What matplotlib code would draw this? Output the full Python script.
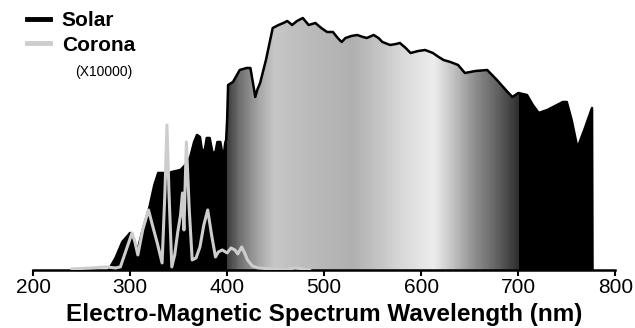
import matplotlib
matplotlib.use("Agg")
import matplotlib.pyplot as plt
import numpy as np
from matplotlib.colors import LinearSegmentedColormap
from matplotlib.lines import Line2D
from matplotlib.patches import Polygon

plt.rcParams['font.family'] = ['Liberation Sans', 'DejaVu Sans']

# solar spectrum (relative units)
solar_nm = [278, 285, 292, 300, 307, 313, 320, 325, 329, 334, 338, 343, 352, 357, 362,
            366, 369, 372, 374, 377, 379, 382, 385, 388, 390, 393, 395, 397, 398, 399,
            400, 400.5, 401, 406, 413, 420, 424, 427, 429, 431, 434, 440, 447, 453, 458,
            462, 467, 472, 478, 484, 491, 497, 503, 509, 514, 518, 522, 528, 534, 540,
            544, 551, 556, 560, 568, 574, 578, 584, 589, 597, 604, 612, 618, 623, 630,
            638, 645, 656, 668, 678, 689, 694, 700, 709, 715, 721, 730, 740, 746, 750,
            755, 761, 768, 776, 776.5]
solar_val = [0, 12, 28, 37, 17, 40, 63, 85, 97, 97, 96, 98, 100, 105, 113,
             128, 135, 133, 120, 120, 132, 132, 117, 118, 128, 128, 117, 118, 127, 130,
             150, 167, 185, 188, 200, 202, 202, 185, 173, 180, 187, 210, 242, 245, 247,
             249, 245, 249, 252, 245, 247, 242, 238, 238, 232, 228, 232, 234, 235, 233,
             232, 235, 232, 228, 225, 226, 227, 222, 217, 219, 220, 217, 213, 210, 208,
             205, 197, 199, 200, 190, 178, 173, 177, 175, 165, 157, 160, 165, 168, 168,
             150, 122, 140, 162, 0]

# corona spectrum (x10000)
corona_nm = [240, 260, 275, 285, 290, 296, 302, 305, 308, 313, 319, 323, 328, 333, 336,
             338, 340, 343, 346, 349, 352, 354, 355.5, 358, 361, 364, 368, 372, 376, 380,
             384, 388, 391, 395, 400, 404, 408, 411, 415, 418, 421, 426, 432, 445, 460,
             470, 478, 485]
corona_val = [1, 2, 3, 2, 3, 20, 37, 28, 15, 40, 60, 45, 27, 7, 80,
              145, 80, 3, 15, 37, 55, 77, 40, 128, 60, 10, 12, 23, 45, 60,
              35, 13, 18, 20, 17, 22, 20, 16, 23, 17, 10, 4, 2, 1, 0,
              2, 1, 0]

tick_nm = [200, 300, 400, 500, 600, 700, 800]
visible = (400, 700)

# grey shading of the visible band
shade_pos = [0.0, 0.04, 0.11, 0.16, 0.26, 0.43, 0.53, 0.6, 0.71, 0.78, 0.85, 0.93, 1.0]
shade_grey = [0.25, 0.44, 0.66, 0.78, 0.74, 0.69, 0.78, 0.85, 0.93, 0.75, 0.56, 0.38, 0.19]

fig = plt.figure(figsize=(6.35, 3.28), dpi=100)
ax = fig.add_axes([0.052, 0.177, 0.917, 0.823])

ax.fill_between(solar_nm, solar_val, 0, color='black', lw=0, zorder=1)
outline = Polygon(np.column_stack([solar_nm, solar_val]), closed=True,
                  transform=ax.transData)
cmap = LinearSegmentedColormap.from_list(
    'vis', [(p, (g, g, g)) for p, g in zip(shade_pos, shade_grey)])
img = ax.imshow(np.linspace(0, 1, 300).reshape(1, -1), cmap=cmap, aspect='auto',
                extent=[visible[0], visible[1], 0, 270], zorder=1.5)
img.set_clip_path(outline)
ax.plot(solar_nm, solar_val, color='black', lw=1.8, zorder=2)
ax.plot(corona_nm, corona_val, color='#cdcdcd', lw=2.2, zorder=4)

ax.set_xlim(200, 800)
ax.set_ylim(0, 270)
ax.set_xticks(tick_nm)
ax.tick_params(axis='x', direction='out', length=4, width=1.5, labelsize=15, pad=2)
ax.set_yticks([])
for s in ['top', 'right', 'left']:
    ax.spines[s].set_visible(False)
ax.spines['bottom'].set_linewidth(1.8)
ax.set_xlabel('Electro-Magnetic Spectrum Wavelength (nm)', fontsize=17.5,
              fontweight='bold', labelpad=4)

handles = [Line2D([], [], color='black', lw=3.5),
           Line2D([], [], color='#cdcdcd', lw=3.5)]
fig.legend(handles, ['Solar', 'Corona'], loc='upper left',
           bbox_to_anchor=(0.025, 1.0), frameon=False, borderpad=0.05,
           handlelength=1.1, handletextpad=0.55, labelspacing=0.25,
           prop={'weight': 'bold', 'size': 15})
fig.text(0.118, 0.782, '(X10000)', fontsize=10, va='center', ha='left')

fig.savefig('out.png', dpi=100)
